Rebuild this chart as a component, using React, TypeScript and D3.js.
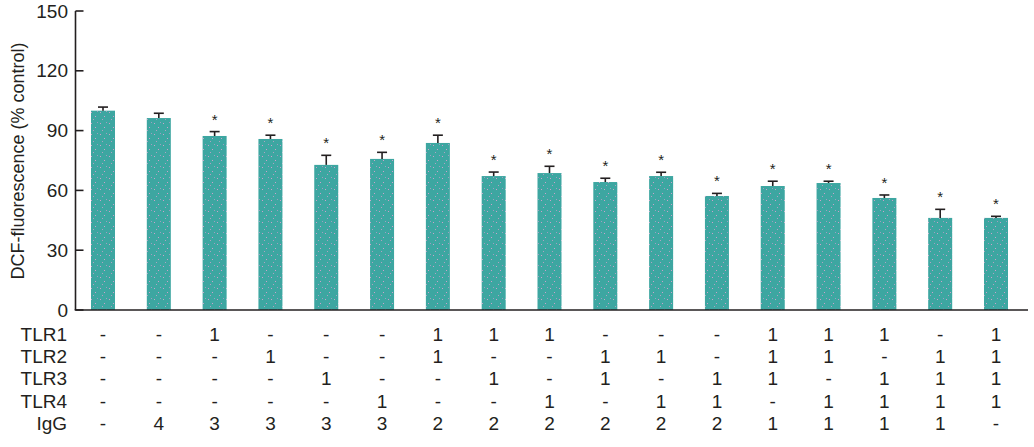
import React from "react";
import * as d3 from "d3";

const values = [100, 96.3, 87.3, 85.8, 72.8, 75.8, 83.8, 67.2, 68.7, 64.2, 67.2, 57.2, 62.2, 63.7, 56.2, 46.2, 46.2];
const errors = [1.8, 2.4, 2.2, 1.9, 4.8, 3.3, 3.9, 2.0, 3.4, 1.9, 1.9, 1.3, 2.4, 0.9, 1.5, 4.3, 0.8];
const significant = [false, false, true, true, true, true, true, true, true, true, true, true, true, true, true, true, true];
const rowLabels = ["TLR1", "TLR2", "TLR3", "TLR4", "IgG"];
const tlr1 = ["-", "-", "1", "-", "-", "-", "1", "1", "1", "-", "-", "-", "1", "1", "1", "-", "1"];
const tlr2 = ["-", "-", "-", "1", "-", "-", "1", "-", "-", "1", "1", "-", "1", "1", "-", "1", "1"];
const tlr3 = ["-", "-", "-", "-", "1", "-", "-", "1", "-", "1", "-", "1", "1", "-", "1", "1", "1"];
const tlr4 = ["-", "-", "-", "-", "-", "1", "-", "-", "1", "-", "1", "1", "-", "1", "1", "1", "1"];
const igg = ["-", "4", "3", "3", "3", "3", "2", "2", "2", "2", "2", "2", "1", "1", "1", "1", "-"];
const yTicks = [0, 30, 60, 90, 120, 150];
const yTitle = "DCF-fluorescence (% control)";

const W = 1034;
const H = 447;
const axisX = 75.5;
const font = "'Liberation Sans', Arial, Helvetica, sans-serif";
const ink = "#231f20";

export default function App() {
  const y = d3.scaleLinear().domain([0, 150]).range([310, 11]);
  const idx = values.map((_, i) => String(i));
  const x = d3.scalePoint<string>().domain(idx).range([103, 996]);
  const barW = 24;
  const rows = [tlr1, tlr2, tlr3, tlr4, igg];
  const rowY = d3.scalePoint<string>().domain(rowLabels).range([334, 423]);

  return (
    <svg width={W} height={H} style={{ position: "absolute", left: 0, top: 0, background: "#fff" }} fontFamily={font}>
      <defs>
        <pattern id="speck" width="9" height="11" patternUnits="userSpaceOnUse">
          <rect width="9" height="11" fill="#3da6a1" />
          <rect x="1" y="2" width="1" height="1" fill="#c9a3cc" />
          <rect x="5" y="6" width="1" height="1" fill="#c9a3cc" />
          <rect x="7" y="1" width="1" height="1" fill="#b79ccb" opacity="0.8" />
          <rect x="3" y="9" width="1" height="1" fill="#c9a3cc" opacity="0.8" />
        </pattern>
      </defs>
      {/* bars */}
      {values.map((v, i) => {
        const cx = x(String(i))!;
        const top = y(v);
        const et = y(v + errors[i]);
        return (
          <g key={i}>
            <rect x={cx - barW / 2} y={top} width={barW} height={y(0) - top} fill="url(#speck)" />
            <line x1={cx} x2={cx} y1={top} y2={et} stroke={ink} strokeWidth={1.6} />
            <line x1={cx - 5} x2={cx + 5} y1={et} y2={et} stroke={ink} strokeWidth={1.6} />
            {significant[i] && (
              <text x={cx} y={et - 16 + 9} textAnchor="middle" fontSize={15} fill={ink}>*</text>
            )}
          </g>
        );
      })}
      {/* y axis */}
      <line x1={axisX} x2={axisX} y1={y(150)} y2={y(0)} stroke={ink} strokeWidth={1.6} />
      {yTicks.map((t) => (
        <g key={t}>
          <line x1={axisX} x2={axisX + 8} y1={y(t)} y2={y(t)} stroke={ink} strokeWidth={1.6} />
          <text x={68} y={y(t)} dy="0.35em" textAnchor="end" fontSize={19} fill={ink}>{t}</text>
        </g>
      ))}
      {/* x axis */}
      <line x1={axisX - 0.8} x2={1028} y1={y(0)} y2={y(0)} stroke={ink} strokeWidth={1.6} />
      <text transform={`translate(18,161) rotate(-90)`} textAnchor="middle" dy="0.35em" fontSize={18} fill={ink}>{yTitle}</text>
      {/* table */}
      {rowLabels.map((lab, r) => (
        <g key={lab}>
          <text x={67} y={rowY(lab)!} dy="0.36em" textAnchor="end" fontSize={19} fill={ink}>{lab}</text>
          {rows[r].map((s, i) => (
            <text key={i} x={x(String(i))!} y={rowY(lab)!} dy="0.36em" textAnchor="middle" fontSize={19} fill={ink}>{s}</text>
          ))}
        </g>
      ))}
    </svg>
  );
}
